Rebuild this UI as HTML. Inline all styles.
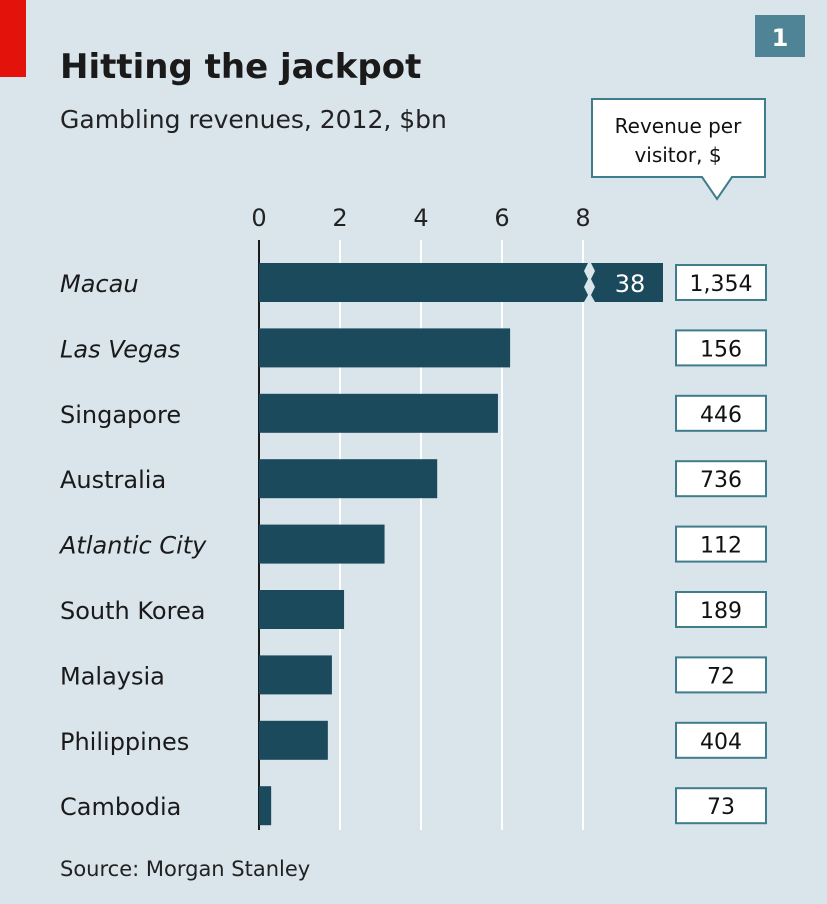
<!DOCTYPE html>
<html><head><meta charset="utf-8"><style>
body{margin:0;background:#d9e4eb;}
svg{display:block;font-family:"DejaVu Sans","Liberation Sans",sans-serif;}
</style></head><body>
<svg id="chart" width="827" height="904" viewBox="0 0 827 904">
<rect x="0" y="0" width="827" height="904" fill="#d9e4eb"/>
<rect x="0" y="0" width="26" height="77" fill="#e3120b"/>
<text x="60" y="78" font-size="34" font-weight="bold" fill="#1a1a1a">Hitting the jackpot</text>
<text x="60" y="128" font-size="25" fill="#222">Gambling revenues, 2012, $bn</text>
<rect x="755" y="15" width="50" height="42" fill="#4f8496"/>
<text x="780" y="46" font-size="24" font-weight="bold" fill="#fff" text-anchor="middle">1</text>
<path d="M592,99 H765 V177 H732 L717,199 L702,177 H592 Z" fill="#fff" stroke="#3f7c8c" stroke-width="2"/>
<text x="678" y="133" font-size="20" fill="#111" text-anchor="middle">Revenue per</text>
<text x="678" y="162" font-size="20" fill="#111" text-anchor="middle">visitor, $</text>
<g id="grid"></g><g id="bars"></g><g id="labels"></g>
<text x="60" y="876" font-size="21" fill="#222">Source: Morgan Stanley</text>
</svg>
<script>
const categories=["Macau","Las Vegas","Singapore","Australia","Atlantic City","South Korea","Malaysia","Philippines","Cambodia"];
const italic=[true,true,false,false,true,false,false,false,false];
const revenues=[38,6.2,5.9,4.4,3.1,2.1,1.8,1.7,0.3];
const perVisitor=["1,354","156","446","736","112","189","72","404","73"];
const ticks=[0,2,4,6,8];
const NS="http://www.w3.org/2000/svg";
const x0=259,pxPer=40.5,maxVal=8;
const xs=v=>x0+v*pxPer;
const ys=i=>263+i*65.4;
function mk(t,a,p){const e=document.createElementNS(NS,t);for(const k in a)e.setAttribute(k,a[k]);p.appendChild(e);return e;}
const grid=document.getElementById('grid'),bars=document.getElementById('bars'),labels=document.getElementById('labels');
ticks.forEach(t=>{
 const l=mk('line',{x1:xs(t),x2:xs(t),y1:t===0?240:240,y2:830,stroke:t===0?'#1a1a1a':'#fff','stroke-width':t===0?2:2},grid);
 
 
 const tx=mk('text',{x:xs(t),y:226,'font-size':24,'text-anchor':'middle',fill:'#222'},grid);
 tx.textContent=t;
 
 
});
categories.forEach((c,i)=>{
 const y=ys(i),v=revenues[i],h=39;
 const lb=mk('text',{x:60,y:y+29,'font-size':24,fill:'#1a1a1a','font-style':italic[i]?'italic':'normal'},labels);
 lb.textContent=c;
 
 
 if(v>maxVal){
  const bx=xs(maxVal)+5;
  const p=mk('path',{d:`M${x0},${y} H${bx} l-4,8 4,8 -4,8 4,8 -4,7 H${x0} Z`,fill:'#1c4a5d'},bars);
  
  
  const p2=mk('path',{d:`M${bx+7},${y} H${bx+75} V${y+h} H${bx+7} l-4,-7 4,-8 -4,-8 4,-8 -4,-8 Z`,fill:'#1c4a5d'},bars);
  
  
  const t=mk('text',{x:bx+42,y:y+29,'font-size':24,fill:'#fff','text-anchor':'middle'},bars);
  t.textContent=v;
  
  
 } else {
  const r=mk('rect',{x:x0,y:y,width:xs(v)-x0,height:h,fill:'#1c4a5d'},bars);
  
  
 }
 const b=mk('rect',{x:676,y:y+2,width:90,height:35,fill:'#fff',stroke:'#3f7c8c','stroke-width':2},labels);
 
 
 const bt=mk('text',{x:721,y:y+28,'font-size':22,fill:'#111','text-anchor':'middle'},labels);
 bt.textContent=perVisitor[i];
 
 
});
</script>
</body></html>
